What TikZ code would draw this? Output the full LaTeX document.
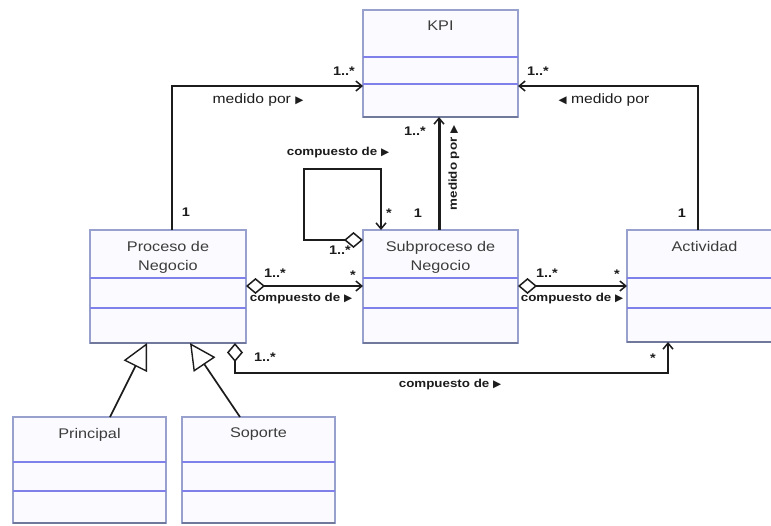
\documentclass[tikz,border=0pt]{standalone}
\usepackage{fontspec}
\setmainfont{Liberation Sans}[FakeStretch=1.16]
\newfontfamily\symfont{DejaVu Sans}
\usetikzlibrary{arrows.meta,calc}

\definecolor{boxedge}{RGB}{152,160,205}
\definecolor{boxsep}{RGB}{128,128,235}
\definecolor{boxfill}{RGB}{251,251,255}
\definecolor{boxshade}{RGB}{112,120,155}
\definecolor{ink}{RGB}{28,28,28}
\definecolor{titleink}{RGB}{60,60,60}

% small reading-direction triangles for association names
\newcommand\rtri{{\symfont\fontsize{10.5}{11}\selectfont ▶}}
\newcommand\ltri{{\symfont\fontsize{10.5}{11}\selectfont ◀}}

\tikzset{
  classbox/.style={draw=boxedge, line width=1.2pt, fill=boxfill, inner sep=0pt,
    outer sep=0pt, anchor=north west},
  sepline/.style={draw=boxsep, line width=1.4pt},
  shadeline/.style={draw=boxshade, line width=2pt},
  classtitle/.style={text=titleink, font=\fontsize{14}{19}\selectfont, align=center,
    anchor=north, inner sep=0pt},
  link/.style={draw=ink, line width=1.7pt},
  nav/.style={-{Straight Barb[length=6pt,width=10pt,line width=1.5pt]}},
  aggnav/.style={{Diamond[open,fill=white,length=19pt,width=16pt,line width=1.5pt]}-{Straight Barb[length=6pt,width=10pt,line width=1.5pt]}},
  gen/.style={{Triangle[open,fill=white,length=26pt,width=26pt,line width=1.4pt]}-},
  role/.style={font=\bfseries\fontsize{12.5}{13}\selectfont, text=ink, inner sep=0pt},
  verb/.style={font=\fontsize{13.5}{14}\selectfont, text=ink, inner sep=0pt},
  boldverb/.style={font=\bfseries\fontsize{11.5}{12}\selectfont, text=ink, inner sep=0pt},
}

% #1 name, #2 left, #3 top, #4 right, #5 bottom, #6 first divider, #7 second divider, #8 title
\newcommand\umlclass[8]{%
  \node[classbox, minimum width={#4-#2}, minimum height={#5-#3}] (#1) at (#2,#3) {};
  \draw[sepline] (#2,#6) -- (#4,#6) (#2,#7) -- (#4,#7);
  \draw[shadeline] (#2,#5) -- (#4,#5);
  \node[classtitle] (#1-title) at ($(#1.north)+(0,11)$) {#8};
}

\begin{document}
\begin{tikzpicture}[x=1pt, y=-1pt]
\fill[white] (0,0) rectangle (771,525);
\useasboundingbox (0,0) rectangle (771,525);
\clip (0,0) rectangle (771,525);

% classes
\umlclass{kpi}{363}{10}{518}{117}{57}{84}{KPI}
\umlclass{proc}{90}{230}{246}{343}{278}{308}{Proceso de\\Negocio}
\umlclass{sub}{363}{230}{518}{343}{278}{308}{Subproceso de\\Negocio}
\umlclass{act}{627}{230}{782}{342}{278}{308}{Actividad}
\umlclass{prin}{13}{417}{166}{523}{462}{491}{Principal}
\umlclass{sop}{182}{417}{335}{523}{462}{491}{Soporte}

% multiplicities and association names
\node[role] (m-pk1) at (186,212) {1};
\node[role] (m-pk2) at (344,71) {1..*};
\node[verb] (n-pk) at (258,100) {medido por \rtri};

\node[role] (m-ak1) at (682,213) {1};
\node[role] (m-ak2) at (538,71) {1..*};
\node[verb] (n-ak) at (604,100) {\ltri\ medido por};

\node[role] (m-sk1) at (418,213) {1};
\node[role] (m-sk2) at (415,131) {1..*};
\node[boldverb, rotate=90] (n-sk) at (454,168) {medido por \rtri};

\node[boldverb] (n-ss) at (338,153) {compuesto de \rtri};
\node[role] (m-ss1) at (340,250) {1..*};
\node[role] (m-ss2) at (389,213) {*};

\node[role] (m-ps1) at (275,273) {1..*};
\node[role] (m-ps2) at (353,275) {*};
\node[boldverb] (n-ps) at (301,299) {compuesto de \rtri};

\node[role] (m-sa1) at (547,273) {1..*};
\node[role] (m-sa2) at (617,274) {*};
\node[boldverb] (n-sa) at (572,299) {compuesto de \rtri};

\node[role] (m-pa1) at (265,357) {1..*};
\node[role] (m-pa2) at (653,358) {*};
\node[boldverb] (n-pa) at (450,385) {compuesto de \rtri};

% "medido por" associations to KPI
\coordinate (pk-a) at ($(proc.north west)+(82,0)$);
\coordinate (pk-b) at ($(kpi.south west)+(0,-31)$);
\draw[link,nav] (pk-a) |- (pk-b);

\coordinate (ak-a) at ($(act.north west)+(71,0)$);
\coordinate (ak-b) at ($(kpi.south east)+(0,-31)$);
\draw[link,nav] (ak-a) |- (ak-b);

\draw[link, line width=3pt, nav] ($(sub.north west)+(76,0)$) -- ($(kpi.south west)+(76,0)$);

% Subproceso composed of Subproceso
\coordinate (ss-s) at ($(sub.north west)+(0,10)$);
\coordinate (ss-e) at ($(sub.north west)+(18,0)$);
\draw[link,aggnav] (ss-s) -- ++(-59,0) |- ($(ss-e)+(0,-61)$) -- (ss-e);

% compositions along the middle row
\draw[link,aggnav] ($(proc.north east)+(0,56)$) -- ($(sub.north west)+(0,56)$);
\draw[link,aggnav] ($(sub.north east)+(0,56)$) -- ($(act.north west)+(0,56)$);

% Proceso composed of Actividad
\draw[link,aggnav] ($(proc.south west)+(145,0)$) -- ++(0,30) -| ($(act.south west)+(41,0)$);

% specialisations of Proceso de Negocio
\draw[link,gen] ($(proc.south west)+(57,0)$) -- ($(prin.north west)+(97,0)$);
\draw[link,gen] ($(proc.south west)+(100,0)$) -- ($(sop.north west)+(58,0)$);
\end{tikzpicture}
\end{document}
